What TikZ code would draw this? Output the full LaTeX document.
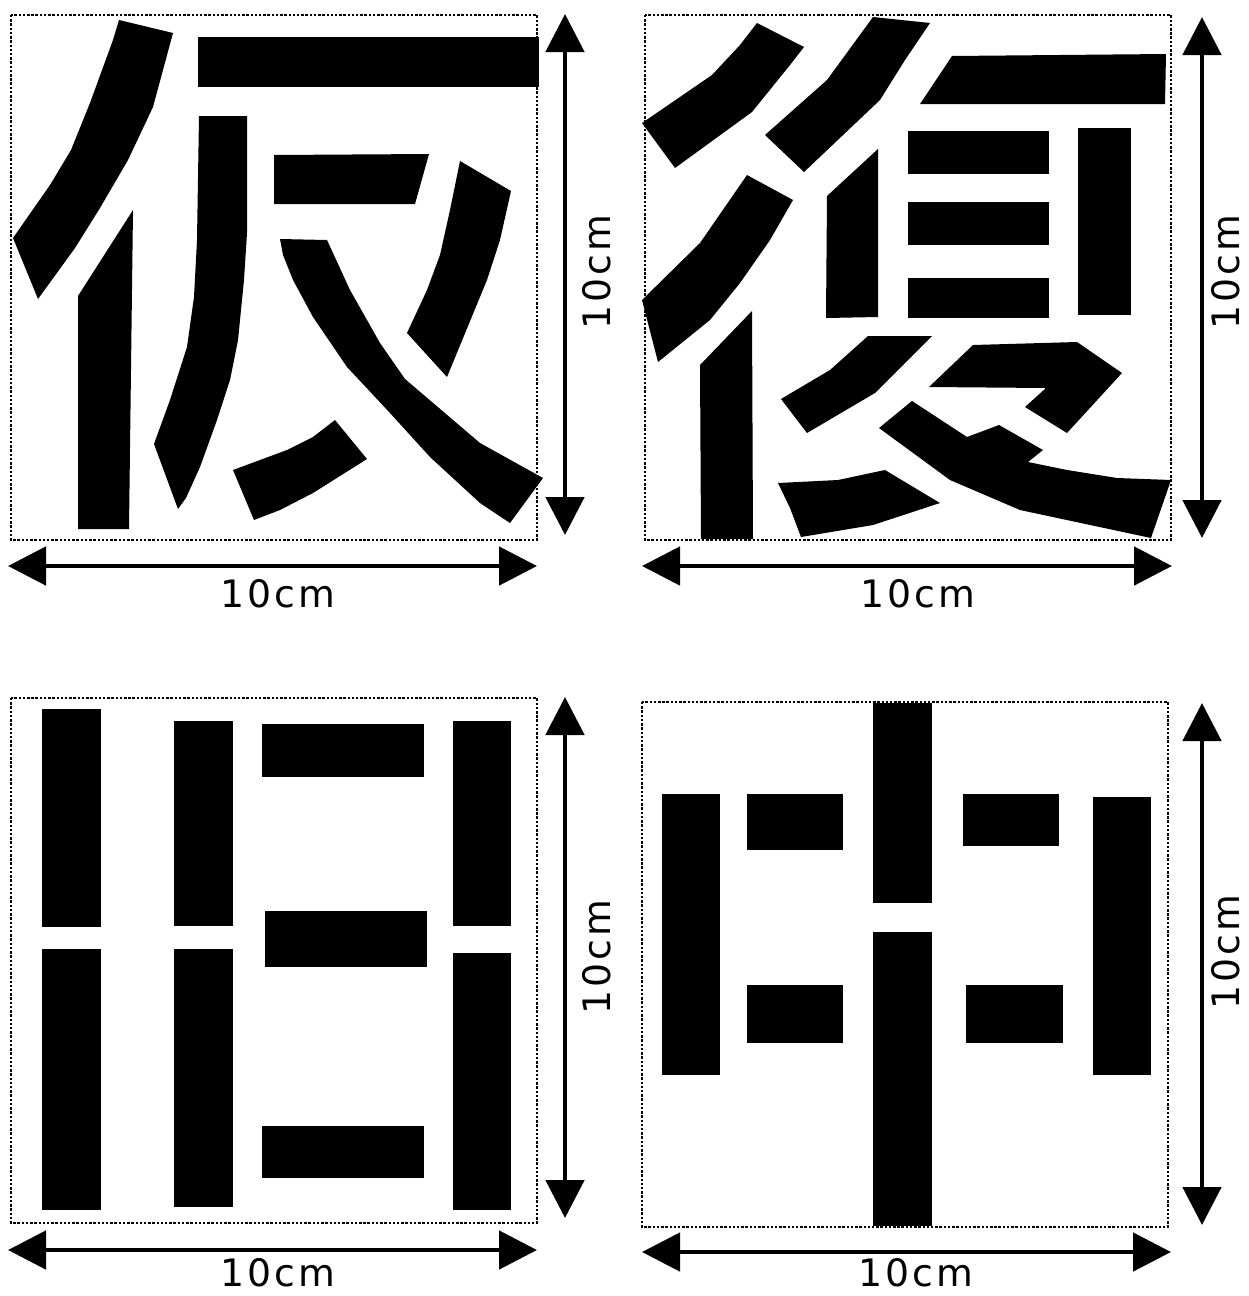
\documentclass[tikz,border=0pt]{standalone}
\usepackage{fontspec}
\setmainfont{DejaVu Sans}
\newfontfamily\dimfont[LetterSpace=8]{DejaVu Sans}
\usetikzlibrary{arrows.meta}
\begin{document}
\begin{tikzpicture}[x=0.2mm,y=-0.2mm,
  frame/.style={line width=1.4pt, dash pattern=on 1.4pt off 1pt},
  dim/.style={line width=2.8pt, {Triangle[length=7.6mm,width=7.6mm]}-{Triangle[length=7.6mm,width=7.6mm]}},
  lbl/.style={font=\dimfont\fontsize{21.5}{26}\selectfont, inner sep=0pt},
  ink/.style={fill=black}]
\useasboundingbox (0,0) rectangle (1248,1296);

% ---------- frames ----------
\draw[frame] (11,15) rectangle (537,540);
\draw[frame] (645,15) rectangle (1171,540);
\draw[frame] (11,698) rectangle (537,1223);
\draw[frame] (642,702) rectangle (1168,1227);

% ---------- dimension arrows ----------
\coordinate (h1a) at (8,566);    \coordinate (h1b) at (537,566);
\coordinate (v1a) at (565,14);   \coordinate (v1b) at (565,535);
\coordinate (h2a) at (642,566);  \coordinate (h2b) at (1172,566);
\coordinate (v2a) at (1202,17);  \coordinate (v2b) at (1202,538);
\coordinate (h3a) at (8,1250);   \coordinate (h3b) at (537,1250);
\coordinate (v3a) at (565,697);  \coordinate (v3b) at (565,1218);
\coordinate (h4a) at (642,1252); \coordinate (h4b) at (1171,1252);
\coordinate (v4a) at (1202,703); \coordinate (v4b) at (1202,1225);
\draw[dim] (h1a) -- (h1b);
\draw[dim] (v1a) -- (v1b);
\draw[dim] (h2a) -- (h2b);
\draw[dim] (v2a) -- (v2b);
\draw[dim] (h3a) -- (h3b);
\draw[dim] (v3a) -- (v3b);
\draw[dim] (h4a) -- (h4b);
\draw[dim] (v4a) -- (v4b);

\node[lbl] (l1h) at (278,594) {10cm};
\node[lbl,rotate=90] (l1v) at (597,272) {10cm};
\node[lbl] (l2h) at (918,594) {10cm};
\node[lbl,rotate=90] (l2v) at (1226,272) {10cm};
\node[lbl] (l3h) at (278,1273) {10cm};
\node[lbl,rotate=90] (l3v) at (597,957) {10cm};
\node[lbl] (l4h) at (916,1273) {10cm};
\node[lbl,rotate=90] (l4v) at (1226,952) {10cm};

% ---------- Q1 ----------
\fill[ink] (119,20) -- (173,33) -- (153,107) -- (128,160) -- (100,208) -- (75,248) -- (38,299) -- (13,238) -- (50,185) -- (71,150) -- (90,103) -- (113,40) -- cycle;
\fill[ink] (133,210) -- (78,296) -- (78,529) -- (129,529) -- cycle;
\fill[ink] (198,37) rectangle (539,87);
\fill[ink] (199,116) -- (247,116) -- (247,233) -- (244,280) -- (238,340) -- (230,380) -- (217,420) -- (200,467) -- (186,498) -- (178,509) -- (154,444) -- (170,400) -- (187,347) -- (194,297) -- (197,240) -- cycle;
\fill[ink] (274,155) -- (429,154) -- (415,204) -- (274,204) -- cycle;
\fill[ink] (280,239) -- (327,240) -- (350,290) -- (380,343) -- (405,379) -- (480,443) -- (543,478) -- (510,523) -- (480,503) -- (430,457) -- (390,413) -- (347,367) -- (313,317) -- (293,280) -- (283,255) -- cycle;
\fill[ink] (460,161) -- (511,191) -- (500,240) -- (487,280) -- (447,377) -- (407,333) -- (427,290) -- (440,255) -- (450,210) -- cycle;
\fill[ink] (233,470) -- (287,450) -- (313,437) -- (335,420) -- (367,459) -- (313,493) -- (280,510) -- (254,520) -- cycle;

% ---------- Q2 ----------
\fill[ink] (757,23) -- (804,47) -- (790,65) -- (752,112) -- (675,168) -- (642,123) -- (712,75) -- (740,45) -- cycle;
\fill[ink] (873,17) -- (930,23) -- (905,60) -- (880,100) -- (804,172) -- (765,135) -- (827,80) -- cycle;
\fill[ink] (952,56) -- (1166,54) -- (1165,104) -- (920,104) -- cycle;
\fill[ink] (878,149) -- (827,196) -- (826,318) -- (878,317) -- cycle;
\fill[ink] (747,175) -- (793,200) -- (770,240) -- (740,283) -- (710,320) -- (658,362) -- (642,300) -- (700,243) -- cycle;
\fill[ink] (752,311) -- (700,365) -- (701,539) -- (753,539) -- cycle;
\fill[ink] (908,131) rectangle (1049,174);
\fill[ink] (908,202) rectangle (1049,245);
\fill[ink] (908,278) rectangle (1049,318);
\fill[ink] (1078,128) rectangle (1131,315);
\fill[ink] (868,336) -- (932,336) -- (875,393) -- (807,433) -- (781,399) -- (830,370) -- cycle;
\fill[ink] (973,345) -- (1077,342) -- (1122,373) -- (1067,433) -- (1025,407) -- (1046,388) -- (929,387) -- cycle;
\fill[ink] (912,401) -- (967,437) -- (999,425) -- (1043,450) -- (1028,462) -- (1067,470) -- (1117,478) -- (1171,480) -- (1151,538) -- (1020,510) -- (950,480) -- (879,428) -- cycle;
\fill[ink] (778,483) -- (838,480) -- (885,470) -- (940,503) -- (873,525) -- (801,537) -- (790,508) -- cycle;

% ---------- Q3 ----------
\fill[ink] (42,709) rectangle (101,927);
\fill[ink] (42,949) rectangle (101,1210);
\fill[ink] (174,721) rectangle (233,926);
\fill[ink] (174,949) rectangle (233,1207);
\fill[ink] (262,724) rectangle (424,777);
\fill[ink] (265,911) rectangle (427,967);
\fill[ink] (262,1126) rectangle (424,1178);
\fill[ink] (453,721) rectangle (511,926);
\fill[ink] (453,953) rectangle (511,1210);

% ---------- Q4 ----------
\fill[ink] (662,794) rectangle (720,1075);
\fill[ink] (747,794) rectangle (843,850);
\fill[ink] (873,703) rectangle (932,903);
\fill[ink] (873,932) rectangle (932,1226);
\fill[ink] (963,794) rectangle (1059,846);
\fill[ink] (747,985) rectangle (843,1043);
\fill[ink] (966,985) rectangle (1063,1043);
\fill[ink] (1093,797) rectangle (1151,1075);
\end{tikzpicture}
\end{document}
